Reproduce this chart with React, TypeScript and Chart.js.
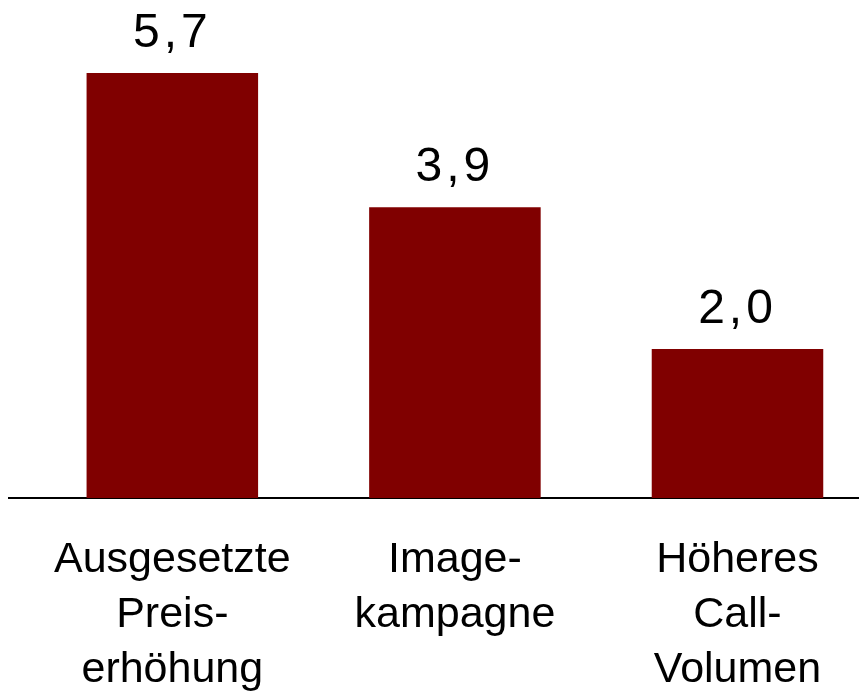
import React, { useEffect, useRef } from "react";
import { Chart, registerables } from "chart.js";

Chart.register(...registerables);

const categories: string[][] = [
  ["Ausgesetzte", "Preis-", "erhöhung"],
  ["Image-", "kampagne"],
  ["Höheres", "Call-", "Volumen"],
];
const values: number[] = [5.7, 3.9, 2.0];
const valueLabels: string[] = ["5,7", "3,9", "2,0"];

const FONT = "'Liberation Sans', Arial, Helvetica, sans-serif";
const BAR_COLOR = "#800000";

const valueLabelPlugin = {
  id: "valueLabels",
  afterDatasetsDraw(chart: any) {
    const ctx = chart.ctx;
    const meta = chart.getDatasetMeta(0);
    ctx.save();
    ctx.font = `48px ${FONT}`;
    ctx.fillStyle = "#000000";
    ctx.textAlign = "center";
    ctx.textBaseline = "alphabetic";
    try {
      (ctx as any).letterSpacing = "4px";
    } catch (e) {}
    meta.data.forEach((bar: any, i: number) => {
      ctx.fillText(valueLabels[i], bar.x, bar.y - 26);
    });
    ctx.restore();
  },
};

export default function App() {
  const canvasRef = useRef<HTMLCanvasElement | null>(null);

  useEffect(() => {
    if (!canvasRef.current) return;
    const chart = new Chart(canvasRef.current, {
      type: "bar",
      data: {
        datasets: [
          {
            data: values.map((v, i) => ({ x: i, y: v })),
            backgroundColor: BAR_COLOR,
            borderWidth: 0,
            categoryPercentage: 1,
            barPercentage: 0.607,
          },
        ],
      },
      options: {
        animation: false,
        responsive: false,
        devicePixelRatio: 1,
        layout: { padding: { left: 9, right: 0, top: 0, bottom: 0 } },
        plugins: {
          legend: { display: false },
          tooltip: { enabled: false },
        },
        scales: {
          x: {
            type: "linear",
            offset: false,
            min: -0.578,
            max: 2.43,
            grid: { display: false, drawTicks: false },
            border: { display: true, color: "#000000", width: 2 },
            afterBuildTicks: (scale: any) => {
              scale.ticks = categories.map((_, i) => ({ value: i }));
            },
            afterFit: (scale: any) => {
              scale.height = 196;
            },
            ticks: {
              autoSkip: false,
              maxRotation: 0,
              minRotation: 0,
              padding: 35,
              color: "#000000",
              font: { family: FONT, size: 43, lineHeight: "55px" },
              callback: (value: any) => categories[Math.round(Number(value))] ?? "",
            },
          },
          y: {
            display: false,
            min: 0,
            max: 6.68,
          },
        },
      },
      plugins: [valueLabelPlugin],
    } as any);
    return () => chart.destroy();
  }, []);

  return (
    <div style={{ position: "fixed", left: 0, top: 0, width: 859, height: 694, background: "#ffffff" }}>
      <canvas ref={canvasRef} width={859} height={694} style={{ display: "block" }} />
    </div>
  );
}
